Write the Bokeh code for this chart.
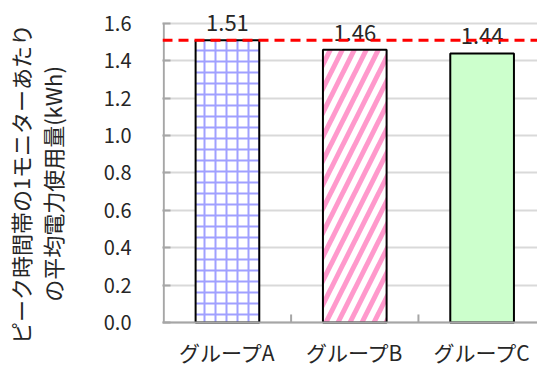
import math
from bokeh.plotting import figure
from bokeh.models import Range1d, FixedTicker, ColumnDataSource, Span
from bokeh.embed import file_html
from bokeh.resources import INLINE
from bokeh.core.properties import value

groups = ["グループA", "グループB", "グループC"]
values = [1.51, 1.46, 1.44]
labels = ["1.51", "1.46", "1.44"]
ref_line = 1.51
y_ticks = [0.0, 0.2, 0.4, 0.6, 0.8, 1.0, 1.2, 1.4, 1.6]
y_label = "ピーク時間帯の1モニターあたり\nの平均電力使用量(kWh)"

FONT = "Noto Sans CJK JP"
AXIS_GRAY = "#a6a6a6"
TEXT = "#262626"
xs = list(range(len(groups)))
bounds = [0.5, 1.5]
y_top = y_ticks[-1]

# frame covers the whole canvas height; the axis spans 0..1.6 inside it
p = figure(width=537, height=367, output_backend="svg", toolbar_location=None,
           x_range=Range1d(-0.51, 2.435), y_range=Range1d(-0.241, 1.723),
           min_border_left=159, min_border_right=0, min_border_top=0,
           min_border_bottom=0)
p.outline_line_color = None
p.background_fill_color = "white"
p.xaxis.visible = False
p.xgrid.visible = False

src = ColumnDataSource(dict(x=xs, top=values, label=labels,
                            zero=[0] * len(xs), name=groups))

p.vbar(x=[xs[0]], top=[values[0]], width=0.5, fill_color="white",
       line_color="black", line_width=2,
       hatch_pattern="+", hatch_color="#a0a0ff", hatch_scale=11, hatch_weight=2)
p.vbar(x=[xs[1]], top=[values[1]], width=0.5, fill_color="white",
       line_color="black", line_width=2,
       hatch_pattern="/", hatch_color="#ff99cc", hatch_scale=24, hatch_weight=5)
p.vbar(x=[xs[2]], top=[values[2]], width=0.5, fill_color="#ccffcc",
       line_color="black", line_width=2)

# value labels
p.text(x="x", y="top", text="label", source=src, text_align="center",
       text_baseline="bottom", y_offset=-9, text_font=value(FONT),
       text_font_size="22px", text_color=TEXT)

# reference line
p.add_layout(Span(location=ref_line, dimension="width", line_color="red",
                  line_width=3, line_dash="10 6"))

# x axis drawn in data space
p.segment(x0=[-0.51], y0=[0], x1=[2.435], y1=[0], line_color=AXIS_GRAY, line_width=2)
p.ray(x=bounds, y=[0] * len(bounds), length=8, length_units="screen",
      angle=math.pi / 2, line_color=AXIS_GRAY, line_width=2)
p.text(x="x", y="zero", text="name", source=src, text_align="center",
       text_baseline="middle", y_offset=30, text_font=value(FONT),
       text_font_size="21px", text_color=TEXT)

# y axis line from 0 to top tick
p.segment(x0=[-0.5], y0=[0], x1=[-0.5], y1=[y_top], line_color=AXIS_GRAY, line_width=2)

p.yaxis.ticker = FixedTicker(ticks=y_ticks)
p.yaxis.major_label_overrides = {t: f"{t:.1f}" for t in y_ticks}
p.yaxis.major_tick_in = 8
p.yaxis.major_tick_out = 0
p.yaxis.major_tick_line_color = AXIS_GRAY
p.yaxis.major_tick_line_width = 2
p.yaxis.minor_tick_line_color = None
p.yaxis.axis_line_color = None
p.yaxis.major_label_standoff = 31
p.yaxis.major_label_text_font = FONT
p.yaxis.major_label_text_font_size = "20px"
p.yaxis.major_label_text_color = TEXT
p.yaxis.axis_label = y_label
p.yaxis.axis_label_text_font = FONT
p.yaxis.axis_label_text_font_size = "22px"
p.yaxis.axis_label_text_font_style = "normal"
p.yaxis.axis_label_text_color = TEXT
p.yaxis.axis_label_text_line_height = 1.0
p.yaxis.axis_label_standoff = 33
p.ygrid.grid_line_color = "#d9d9d9"
p.ygrid.grid_line_width = 2

open("out.html", "w").write(file_html(p, INLINE))
